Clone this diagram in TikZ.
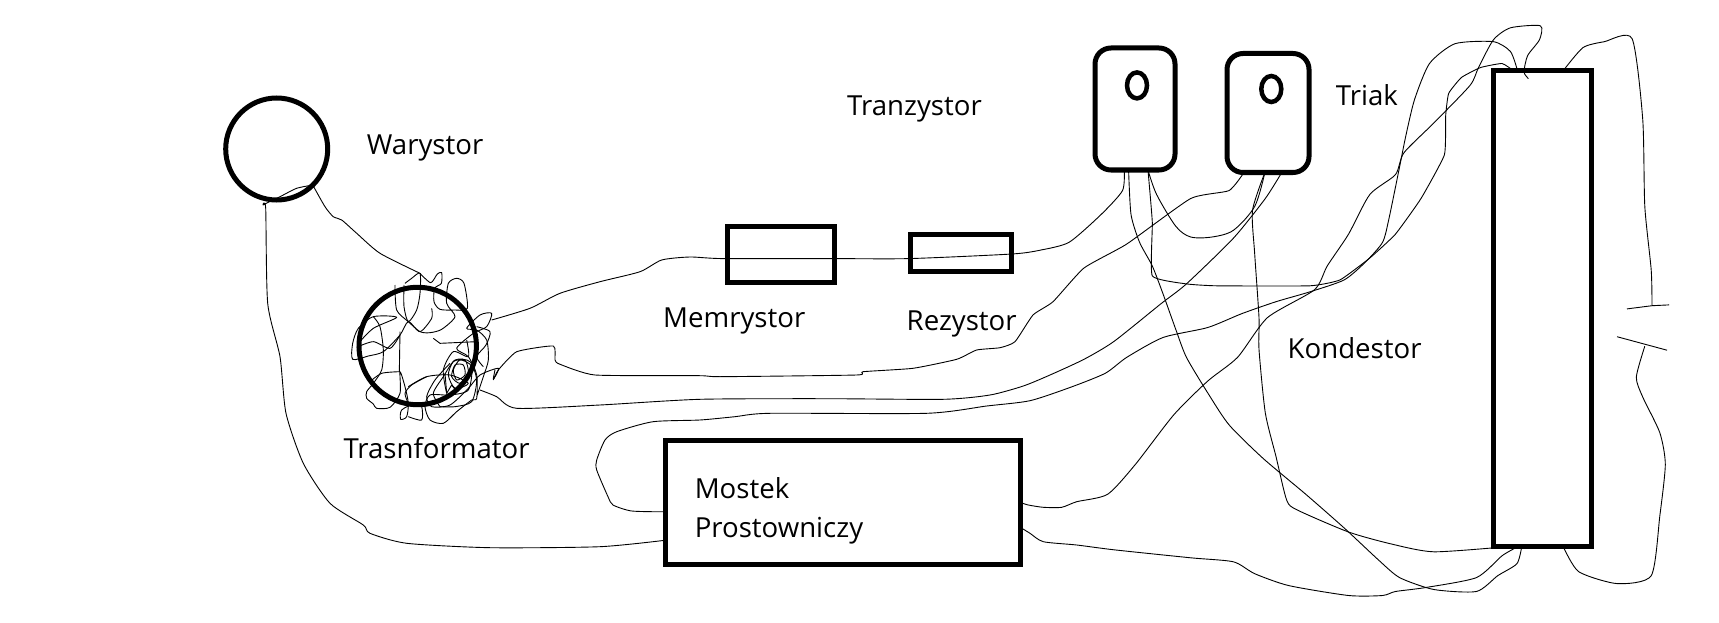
\documentclass[tikz,border=0pt]{standalone}
\usepackage{fontspec}
\setmainfont{Open Sans}
\usetikzlibrary{positioning}
\tikzset{part/.style={draw, line width=5pt, inner sep=0pt, outer sep=0pt},
ring/.style={part, circle},
tag/.style={inner sep=0pt, anchor=base west, font=\fontsize{27.6}{39.5}\selectfont},
wire/.style={line width=0.9pt, line join=round},
hole/.style={draw, line width=4.5pt, ellipse, inner sep=0pt}
}
\usetikzlibrary{shapes.geometric}

\begin{document}
\begin{tikzpicture}[x=1pt,y=-1pt]
\useasboundingbox (0,0) rectangle (1719,623);
\node[ring, minimum size=102pt] (war) at (276.7,149) {};
\node[ring, minimum size=117.4pt] (trafo) at (417.7,346) {};
\node[part, minimum width=107pt, minimum height=56pt] (mem) at (780.5,254) {};
\node[part, minimum width=101pt, minimum height=37pt] (rez) at (960.5,252.5) {};
\node[part, minimum width=355pt, minimum height=124pt] (most) at (843,502.5) {};
\node[part, rounded corners=16pt, minimum width=80pt, minimum height=122pt] (tran) at (1135,109) {};
\node[part, rounded corners=16pt, minimum width=82pt, minimum height=119pt] (tri) at (1268,113) {};
\node[part, minimum width=98pt, minimum height=476.3pt] (big) at (1542.5,308.7) {};
\node[hole, minimum width=20pt, minimum height=26pt] (tranhole) at (1137,85.4) {};
\node[hole, minimum width=20pt, minimum height=26pt] (trihole) at (1271.3,89) {};

\node[tag] (warname) at (366.7,154.6) {Warystor};
\node[tag] (trafoname) at (343.3,458.6) {Trasnformator};
\node[tag] (tranname) at (847,115.8) {Tranzystor};
\node[tag] (memname) at (663,327.3) {Memrystor};
\node[tag] (rezname) at (906.5,330.6) {Rezystor};
\node[tag] (triname) at (1335.7,105.7) {Triak};
\node[tag] (kondname) at (1287.5,358.6) {Kondestor};
\node[tag, anchor=north west, align=left] (mostname) at (694.6,477) {Mostek\\Prostowniczy};

% loose ends
\coordinate (coilN) at (420,273.3);
\coordinate (coilA) at (491.7,320);
\coordinate (coilB) at (493.3,380);
\coordinate (coilC) at (480,390);
\coordinate (capL) at (1617,336.7);
\coordinate (capR) at (1667,350.2);
\coordinate (capK) at (1644.8,346.2);
\coordinate (plateL) at (1627,308.9);
\coordinate (plateR) at (1669,304.9);
\coordinate (plateM) at (1652,305.7);

\draw[wire] plot[smooth, tension=0.4] coordinates {(war.-45) (296.7,188.3) (280,196.7) (263.3,205) (265.7,208.3) (267.7,303.3) (280,356.7) (286,413.3) (303.3,463.3) (330,503.3) (363.3,525) (370,533.3) (406.7,543.3) (490,547.7) (600,546.7) (most.192)};
\draw[wire] plot[smooth, tension=0.4] coordinates {(war.-45) (325,206.7) (333.3,216.7) (341.7,220) (356.7,233.3) (380,253.3) (coilN)};

\draw[wire] plot[smooth, tension=0.4] coordinates {(coilA) (530,308.3) (560,293.3) (600,281.7) (640,271.7) (661.7,260) (690,257) (723,258.6) (833,258.6) (909,258.6) (1012,254) (1041,250) (1069.2,242.2) (1101.2,214.4) (1122.5,190.6) (tran.-100)};
\draw[wire] plot[smooth, tension=0.3] coordinates {(coilB) (498.3,370) (516.7,351.7) (553.3,346) (555,360) (559.3,364) (595,375) (700,375.7) (720,376.7) (856.7,375) (863,371.7) (913,368.3) (956.7,359.3) (976.7,350) (1000,347.7) (1015,341.7) (1033,315) (1053,301.7) (1084,268) (1126.8,244) (1190.7,198.5) (1229,190.6) (tri.-112)};
\draw[wire] plot[smooth, tension=0.4] coordinates {(coilC) (496.7,396.7) (516.7,408.3) (600,405) (700,399.3) (826.7,398.7) (943.3,399.3) (990,395) (1023.3,386) (1050,375) (1084,359.3) (1114,341.4) (1161,303.7) (1186.4,283.9) (1233.4,238.2) (1265.3,198.5) (tri.-77)};
\draw[wire] plot[smooth, tension=0.4] coordinates {(most.183) (631.7,511) (613,505) (608,496.7) (596.7,470) (596.7,460) (605,440) (616.7,431.7) (653,421.7) (700,420) (735,416.7) (770,413.3) (926.7,413.3) (986.7,406) (1030,400.7) (1071.3,387) (1105.4,373.2) (1126.8,357.3) (1163,337.5) (1207.8,327.5) (1241.9,313.6) (1276,301.7) (1310,291.8) (1344.2,279.9) (1365.5,262) (1382.6,242.2) (1389,218.4) (1399.6,166.7) (1406,135) (1414.6,99.3) (1429.5,63.5) (1455,43.7) (1493.5,41.7) (1510.5,51.6) (big.96)};
\draw[wire] plot[smooth, tension=0.5] coordinates {(tran.-78) (1156.6,194.5) (1175.8,226.3) (1190.7,237) (1212,237) (1233.4,230.3) (1254.7,206.4) (tri.-93)};
\draw[wire] plot[smooth, tension=0.4] coordinates {(tri.-93) (1252.5,210.4) (1254.7,254) (1259,317.6) (1259,349.4) (1265.3,412.9) (1276,456.6) (1286.7,500.2) (1297.3,510) (1348.5,532) (1391,543.9) (1433.8,551.8) (big.-99)};
\draw[wire] plot[smooth, tension=0.4] coordinates {(tran.-96) (1131,214.4) (1139.5,242.2) (1152.3,266) (1163,293.8) (1175.8,329.5) (1186.4,357.3) (1207.8,393) (1229,424.8) (1263.2,458.5) (1305.8,494.3) (1344.2,528) (1378.3,559.8) (1399.6,577.6) (1433.8,589.5) (1476.4,591.5) (1497.7,575.7) (1516.9,563.7) (big.-95)};
\draw[wire] plot[smooth, tension=0.25] coordinates {(tran.-78) (1152.3,222.3) (1152.3,275.9) (1186.4,283.9) (1216.3,285.8) (1310,285.8) (1340,279.9) (1369.8,258) (1395.4,234.2) (1421,198.5) (1444.4,154.8) (1445.7,115) (1448.7,93.3) (1461.5,77.4) (1480.7,67.5) (1502,63.5) (big.97)};
\draw[wire] plot[smooth, tension=0.4] coordinates {(most.0) (1028.3,505) (1043.3,507.3) (1061.7,507.3) (1076.7,501.7) (1107.6,494.3) (1135.3,464.5) (1173.7,414.9) (1207.8,381) (1237.6,357.3) (1267.5,317.6) (1314.4,289.8) (1327.2,266) (1348.5,234.2) (1369.8,194.5) (1395.4,174.7) (1403.9,152.8) (1433.8,123) (1470,85.4) (1478.5,67.5) (1493.5,39.7) (1510.5,27.8) (1540.4,25.8) (1539.5,39.7) (1527.6,55.6) (1524,72) (1528.4,78.6)};
\draw[wire] plot[smooth, tension=0.4] coordinates {(most.-8) (1030,533.3) (1043.3,541.7) (1076.7,545) (1114,549.8) (1190.7,557.8) (1233.4,561.8) (1254.7,573.7) (1288.8,585.6) (1348.5,595.5) (1382.6,595.5) (1395.4,591.5) (1425.2,587.6) (1476.4,577.6) (1502,555.8) (big.-96)};
\draw[wire] plot[smooth, tension=0.4] coordinates {(big.-85) (1578.7,571.7) (1617,583.6) (1651.2,575.7) (1659.8,516) (1665.3,464.5) (1659.8,432.7) (1642.7,397) (1636.3,377.2) (capK)};
\draw[wire] plot[smooth, tension=0.4] coordinates {(plateM) (1651.2,270) (1644.8,206.4) (1642.7,119) (1632,38.5) (1604.3,41.7) (1583,47.6) (big.85)};
\draw[wire] (capL) -- (capR);
\draw[wire] (plateL) -- (plateM) -- (plateR);

% coil scribble
\begin{scope}[shift={(340,260)}, scale=1/3]
\draw[wire] plot[smooth, tension=0.45] coordinates {(240,40) (272,68) (292,42) (305,38) (304,70) (284,85) (282,125) (300,148) (345,150) (382,145) (372,70) (350,55) (325,70) (320,130) (345,170) (305,208) (270,218) (240,215) (205,185) (170,150) (165,75)};
\draw[wire] plot[smooth, tension=0.45] coordinates {(192,75) (192,140) (205,185) (230,150) (240,100) (240,40) (215,55) (195,70)};
\draw[wire] plot[smooth, tension=0.45] coordinates {(275,145) (275,175) (240,215) (205,185) (180,225) (130,275) (85,288) (38,298) (38,250) (55,205) (100,170) (170,172) (100,205) (55,250)};
\draw[wire] plot[smooth, tension=0.45] coordinates {(180,225) (150,265) (100,245) (50,262)};
\draw[wire] plot[smooth, tension=0.45] coordinates {(100,170) (120,200) (130,270) (125,330) (100,370) (80,395) (80,415) (100,432) (110,445) (150,442) (180,400) (180,335) (195,380) (205,430) (200,470) (182,478) (185,450) (225,430) (245,440) (245,480) (205,470)};
\draw[wire] plot[smooth, tension=0.45] coordinates {(180,335) (125,340) (90,365)};
\draw[wire] plot[smooth, tension=0.45] coordinates {(180,215) (178,335)};
\draw[wire] plot[smooth, tension=0.45] coordinates {(205,380) (260,350) (330,345) (385,370) (345,385) (325,345) (340,305) (375,300) (385,340) (360,370) (335,350) (345,315) (370,315) (375,345) (350,360) (340,330) (360,300) (395,320) (385,390) (330,405) (270,405) (255,440) (270,480) (310,490) (350,455) (395,420) (410,415) (410,345) (385,290) (350,265) (400,220) (440,200) (455,160) (420,165) (380,205) (410,210) (440,240) (445,300) (430,350) (410,410)};
\draw[wire] plot[smooth, tension=0.45] coordinates {(330,310) (285,360) (260,410) (275,440) (330,435) (385,385) (420,345) (475,325) (460,358) (465,330)};
\draw[wire] plot[smooth, tension=0.45] coordinates {(205,430) (195,400) (215,375) (260,350)};
\draw[wire] (280,235) -- (300,250) -- (410,245);
\draw[wire] (315,340) -- (320,400) -- (335,375) -- (350,395);
\draw[wire] plot[smooth, tension=0.45] coordinates {(380,240) (385,290) (340,275) (310,330) (320,400)};
\draw[wire] plot[smooth, tension=0.45] coordinates {(300,440) (280,400) (310,350) (345,300) (390,305) (410,360) (395,425) (345,440) (300,440)};
\draw[wire] plot[smooth, tension=0.45] coordinates {(410,200) (450,215) (438,255) (410,290) (430,320)};
\end{scope}
\end{tikzpicture}
\end{document}
